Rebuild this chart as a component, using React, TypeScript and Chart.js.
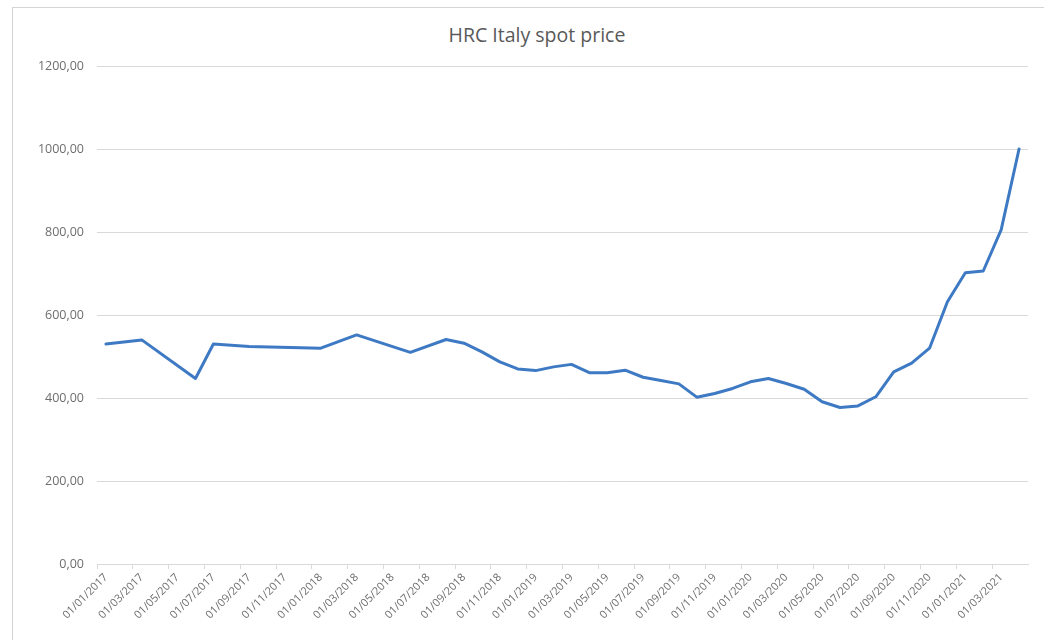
import React, { useEffect, useRef } from "react";
import { Chart, registerables } from "chart.js";

Chart.register(...registerables);

const chartTitle = "HRC Italy spot price";

const months = [
  "01/01/2017", "01/02/2017", "01/03/2017", "01/04/2017", "01/05/2017", "01/06/2017",
  "01/07/2017", "01/08/2017", "01/09/2017", "01/10/2017", "01/11/2017", "01/12/2017",
  "01/01/2018", "01/02/2018", "01/03/2018", "01/04/2018", "01/05/2018", "01/06/2018",
  "01/07/2018", "01/08/2018", "01/09/2018", "01/10/2018", "01/11/2018", "01/12/2018",
  "01/01/2019", "01/02/2019", "01/03/2019", "01/04/2019", "01/05/2019", "01/06/2019",
  "01/07/2019", "01/08/2019", "01/09/2019", "01/10/2019", "01/11/2019", "01/12/2019",
  "01/01/2020", "01/02/2020", "01/03/2020", "01/04/2020", "01/05/2020", "01/06/2020",
  "01/07/2020", "01/08/2020", "01/09/2020", "01/10/2020", "01/11/2020", "01/12/2020",
  "01/01/2021", "01/02/2021", "01/03/2021", "01/04/2021",
];

const prices: (number | null)[] = [
  530, null, 540, null, null, 447,
  530, null, 524, null, null, null,
  520, null, 552, null, null, 510,
  null, 541, 532, 511, 487, 470,
  466, 475, 481, 461, 461, 467,
  450, 442, 434, 402, 411, 423,
  439, 447, 435, 421, 391, 377,
  381, 403, 463, 484, 520, 632,
  702, 706, 805, 1000,
];

const yMin = 0;
const yMax = 1200;
const yStep = 200;

export default function App() {
  const canvasRef = useRef<HTMLCanvasElement | null>(null);

  useEffect(() => {
    if (!canvasRef.current) return;
    const chart = new Chart(canvasRef.current, {
      type: "line",
      data: {
        labels: months,
        datasets: [
          {
            label: chartTitle,
            data: prices,
            borderColor: "rgb(62,122,196)",
            backgroundColor: "rgb(62,122,196)",
            borderWidth: 3,
            pointRadius: 0,
            pointHoverRadius: 0,
            tension: 0,
            spanGaps: true,
            borderJoinStyle: "round",
            borderCapStyle: "round",
          },
        ],
      },
      options: {
        responsive: false,
        animation: false,
        layout: { padding: { left: 0, right: 34, top: 59, bottom: 0 } },
        plugins: {
          legend: { display: false },
          tooltip: { enabled: false },
          title: { display: false },
        },
        scales: {
          x: {
            type: "category",
            offset: true,
            afterFit: (scale: any) => {
              scale.height = 76;
            },
            grid: {
              offset: true,
              display: true,
              drawOnChartArea: false,
              drawTicks: true,
              tickLength: 5,
              color: (ctx: any) => (ctx.index % 2 === 0 ? "#d9d9d9" : "rgba(0,0,0,0)"),
            },
            border: { display: true, color: "#d9d9d9", width: 1 },
            ticks: {
              autoSkip: false,
              maxRotation: 45,
              minRotation: 45,
              padding: 2,
              color: "#6e6e6e",
              font: { family: "'Open Sans', sans-serif", size: 11 },
              callback: (_v: any, i: number) => (i % 2 === 0 ? months[i] : ""),
            },
          },
          y: {
            min: yMin,
            max: yMax,
            afterFit: (scale: any) => {
              scale.width = 85;
            },
            grid: { color: "#d9d9d9", drawTicks: false, lineWidth: 1 },
            border: { display: false },
            ticks: {
              stepSize: yStep,
              padding: 13,
              color: "#6e6e6e",
              font: { family: "'Open Sans', sans-serif", size: 12.5 },
              callback: (v: any) => Number(v).toFixed(2).replace(".", ","),
            },
          },
        },
      },
    });
    return () => chart.destroy();
  }, []);

  return (
    <div
      style={{
        position: "fixed",
        left: 0,
        top: 0,
        width: 1044,
        height: 640,
        overflow: "hidden",
        background: "#ffffff",
      }}
    >
      <div
        style={{
          position: "absolute",
          left: 12,
          top: 7,
          width: 1100,
          height: 700,
          border: "1px solid #d4d4d4",
          boxSizing: "border-box",
        }}
      />
      <div
        style={{
          position: "absolute",
          left: 337,
          width: 400,
          top: 22,
          height: 26,
          lineHeight: "26px",
          textAlign: "center",
          fontFamily: "'Open Sans', sans-serif",
          fontSize: 19.5,
          color: "#595959",
          whiteSpace: "nowrap",
        }}
      >
        {chartTitle}
      </div>
      <canvas
        ref={canvasRef}
        width={1050}
        height={633}
        style={{ position: "absolute", left: 12, top: 7, width: 1050, height: 633 }}
      />
    </div>
  );
}
